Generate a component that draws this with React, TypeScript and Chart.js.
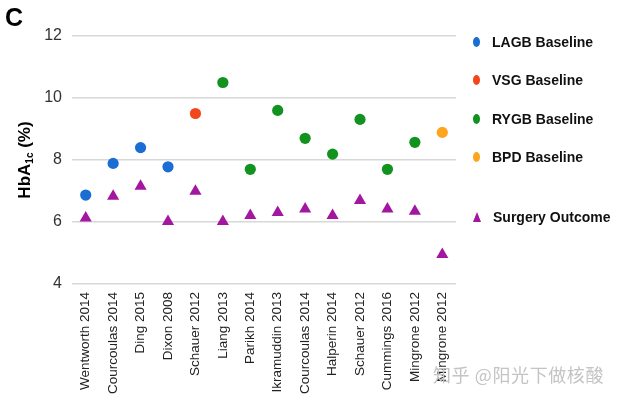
import React, { useEffect, useRef } from "react";
import { Chart, registerables } from "chart.js";

Chart.register(...registerables);

const categories = [
  "Wentworth 2014", "Courcoulas 2014", "Ding 2015", "Dixon 2008", "Schauer 2012",
  "Liang 2013", "Parikh 2014", "Ikramuddin 2013", "Courcoulas 2014", "Halperin 2014",
  "Schauer 2012", "Cummings 2016", "Mingrone 2012", "Mingrone 2012",
];
const lagbBaseline = [6.87, 7.89, 8.4, 7.78, null, null, null, null, null, null, null, null, null, null];
const vsgBaseline = [null, null, null, null, 9.5, null, null, null, null, null, null, null, null, null];
const rygbBaseline = [null, null, null, null, null, 10.5, 7.7, 9.6, 8.7, 8.19, 9.31, 7.7, 8.57, null];
const bpdBaseline = [null, null, null, null, null, null, null, null, null, null, null, null, null, 8.89];
const surgeryOutcome = [6.13, 6.83, 7.15, 6.02, 6.99, 6.02, 6.21, 6.31, 6.42, 6.21, 6.69, 6.42, 6.35, 4.95];
const yTicks = [4, 6, 8, 10, 12];

const COLORS = {
  lagb: "#1a6dd2",
  vsg: "#f2461c",
  rygb: "#12921f",
  bpd: "#fca51d",
  outcome: "#a3169f",
};

const legendItems = [
  { label: "LAGB Baseline", color: COLORS.lagb, shape: "dot", y: 42 },
  { label: "VSG Baseline", color: COLORS.vsg, shape: "dot", y: 80 },
  { label: "RYGB Baseline", color: COLORS.rygb, shape: "dot", y: 118.5 },
  { label: "BPD Baseline", color: COLORS.bpd, shape: "dot", y: 156.5 },
  { label: "Surgery Outcome", color: COLORS.outcome, shape: "tri", y: 216.5 },
];

export default function App() {
  const ref = useRef<HTMLCanvasElement | null>(null);

  useEffect(() => {
    document.body.style.margin = "0";
    const canvas = ref.current;
    if (!canvas) return;
    const mk = (label: string, data: (number | null)[], color: string, style: any, r: number) => ({
      label,
      data,
      showLine: false,
      pointStyle: style,
      pointRadius: r,
      pointHoverRadius: r,
      pointBackgroundColor: color,
      pointBorderColor: color,
      pointBorderWidth: 0,
      borderColor: color,
      backgroundColor: color,
      spanGaps: false,
    });
    const chart = new Chart(canvas, {
      type: "line",
      data: {
        labels: categories,
        datasets: [
          mk("LAGB Baseline", lagbBaseline, COLORS.lagb, "circle", 5.6),
          mk("VSG Baseline", vsgBaseline, COLORS.vsg, "circle", 5.6),
          mk("RYGB Baseline", rygbBaseline, COLORS.rygb, "circle", 5.6),
          mk("BPD Baseline", bpdBaseline, COLORS.bpd, "circle", 5.6),
          mk("Surgery Outcome", surgeryOutcome, COLORS.outcome, "triangle", 7),
        ],
      },
      options: {
        responsive: false,
        animation: false,
        layout: { padding: { left: 0, right: 163, top: 36, bottom: 0 } },
        plugins: { legend: { display: false }, tooltip: { enabled: false } },
        scales: {
          x: {
            type: "category",
            offset: true,
            grid: { display: false, drawTicks: false },
            border: { display: false },
            ticks: {
              autoSkip: false,
              minRotation: 90,
              maxRotation: 90,
              padding: 8,
              color: "#222",
              font: { family: "Liberation Sans, Arial, sans-serif", size: 13.5 },
            },
            afterFit: (s: any) => { s.height = 114; },
          },
          y: {
            min: 4,
            max: 12,
            afterBuildTicks: (s: any) => { s.ticks = yTicks.map((v) => ({ value: v })); },
            grid: { color: "#d8d8d8", lineWidth: 1.5, drawTicks: false },
            border: { display: false },
            ticks: {
              padding: 10,
              color: "#333",
              font: { family: "Liberation Sans, Arial, sans-serif", size: 16 },
            },
            afterFit: (s: any) => { s.width = 72; },
          },
        },
      },
    });
    return () => chart.destroy();
  }, []);

  return (
    <div style={{ position: "relative", width: 619, height: 398, background: "#fff", overflow: "hidden", fontFamily: "Liberation Sans, Arial, sans-serif" }}>
      <canvas ref={ref} width={619} height={398} style={{ position: "absolute", left: 0, top: 0 }} />
      <div style={{ position: "absolute", left: 5, top: 3, fontSize: 25, fontWeight: "bold", color: "#000" }}>C</div>
      <div
        style={{
          position: "absolute",
          left: 25,
          top: 160,
          transform: "translate(-50%, -50%) rotate(-90deg)",
          whiteSpace: "nowrap",
          fontSize: 17,
          fontWeight: "bold",
          color: "#000",
        }}
      >
        HbA<sub style={{ fontSize: 10, verticalAlign: "-3px" }}>1c</sub> (%)
      </div>
      {legendItems.map((it) => (
        <div key={it.label} style={{ position: "absolute", left: 471, top: it.y - 10, height: 20, display: "flex", alignItems: "center" }}>
          {it.shape === "dot" ? (
            <div style={{ width: 7, height: 10, borderRadius: "50%", background: it.color, marginLeft: 2, marginRight: 12 }} />
          ) : (
            <div style={{ width: 0, height: 0, borderLeft: "4.5px solid transparent", borderRight: "4.5px solid transparent", borderBottom: `10px solid ${it.color}`, marginLeft: 1.5, marginRight: 12.5 }} />
          )}
          <span style={{ fontSize: 14, fontWeight: "bold", color: "#111" }}>{it.label}</span>
        </div>
      ))}
      <div style={{ position: "absolute", left: 433, top: 361, fontSize: 18, letterSpacing: 0.6, color: "#c4c4c4", fontFamily: "Noto Sans CJK SC, sans-serif", whiteSpace: "nowrap" }}>
        知乎 @阳光下做核酸
      </div>
    </div>
  );
}
